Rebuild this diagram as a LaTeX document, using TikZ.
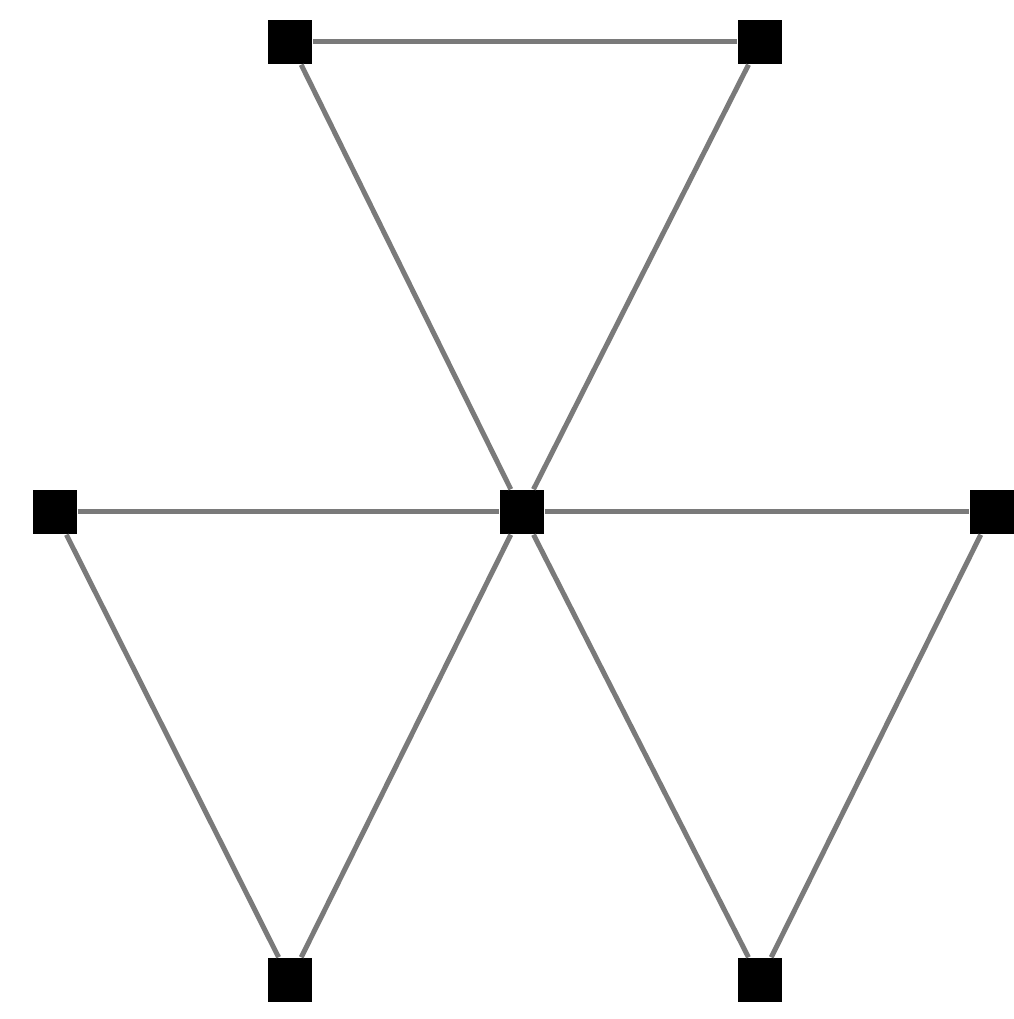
\documentclass[tikz,border=0pt]{standalone}
\usetikzlibrary{positioning}
\tikzset{
  vtx/.style ={rectangle, fill=black, minimum size=0.44cm, inner sep=0pt},
  edg/.style ={draw=black!52, line width=0.05cm},
}
\begin{document}
\begin{tikzpicture}
  \useasboundingbox (0,0) rectangle (10.14,10.19);
  \node[vtx] (tl) at (2.90,9.77) {};
  \node[vtx] (tr) at (7.60,9.77) {};
  \node[vtx] (l)  at (0.55,5.07) {};
  \node[vtx] (c)  at (5.22,5.07) {};
  \node[vtx] (r)  at (9.92,5.07) {};
  \node[vtx] (bl) at (2.90,0.39) {};
  \node[vtx] (br) at (7.60,0.39) {};
  \draw[edg] (tl)--(tr);
  \draw[edg] (tl)--(c);
  \draw[edg] (tr)--(c);
  \draw[edg] (l)--(c);
  \draw[edg] (c)--(r);
  \draw[edg] (l)--(bl);
  \draw[edg] (bl)--(c);
  \draw[edg] (c)--(br);
  \draw[edg] (br)--(r);
\end{tikzpicture}
\end{document}
